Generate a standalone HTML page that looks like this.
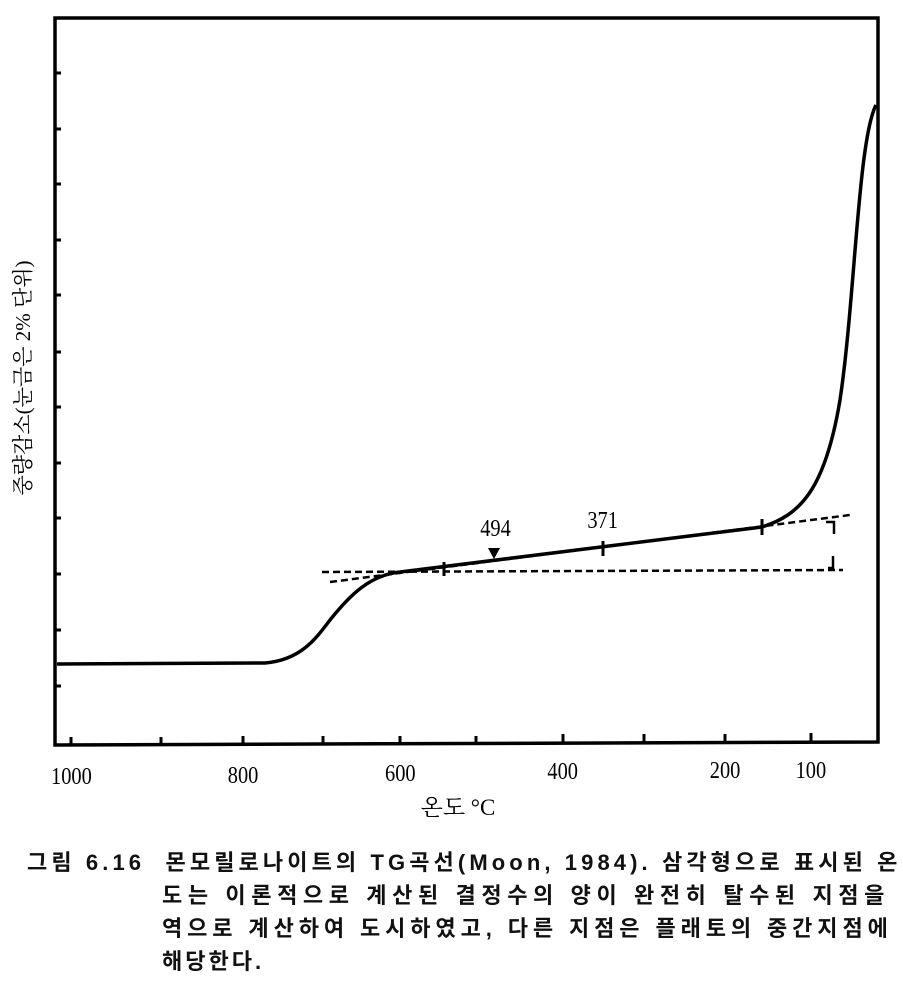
<!DOCTYPE html>
<html><head><meta charset="utf-8"><style>
body{margin:0;background:#fff;width:903px;height:995px;overflow:hidden;position:relative;font-family:"Liberation Serif","Noto Serif CJK SC",serif}
.l{position:absolute;font-size:22px;color:#111;font-weight:bold;font-family:"Liberation Sans","Noto Sans CJK KR",sans-serif;white-space:nowrap;height:30px;line-height:30px}
</style></head><body>
<svg width="903" height="840" style="position:absolute;left:0;top:0" font-family="Liberation Serif, Noto Serif CJK SC, serif">
<g stroke="#000" fill="none">
<path d="M55,18 L878,18 L878,742 L55,745 Z" stroke-width="3.5"/>
<g stroke-width="3">
<path d="M55,73h6M55,129h6M55,184h6M55,240h6M55,295h6M55,352h6M55,407h6M55,463h6M55,518h6M55,574h6M55,630h6M55,686h6"/>
<path d="M71,745v-8M161,745v-8M243,744v-8M323,744v-8M400,744v-8M476,744v-8M563,743v-9M644,743v-9M725,743v-9M811,742v-9"/>
</g>
<path d="M57,664 L265,663 C300,660 315,640 330,620 C350,595 370,575 400,572 L762,527 C800,515 825,490 840,400 C855,300 858,140 876,105" stroke-width="3.5"/>
<g stroke-width="2.5" stroke-dasharray="7,4">
<path d="M322,572 L843,570"/>
<path d="M330,582 L850,515"/>
</g>
<path d="M444,562v14M603,541v15M762,519v16" stroke-width="3"/>
<path d="M826,522h8v12M833,556v12h-5" stroke-width="2.5"/>
</g>
<path d="M488,548 L500,548 L494,559 Z" fill="#000"/>
<g font-size="24" fill="#000" text-anchor="middle">
<g transform="scale(0.85,1)">
<text x="583" y="536">494</text>
<text x="709" y="528">371</text>
<text x="84" y="784">1000</text>
<text x="286" y="783">800</text>
<text x="471" y="781">600</text>
<text x="662" y="779">400</text>
<text x="853" y="778">200</text>
<text x="954" y="778">100</text>
</g>
<text x="458" y="815" font-size="23">온도 °C</text>
</g>
<text transform="translate(30,378) rotate(-90)" font-size="21" text-anchor="middle" fill="#000">중량감소(눈금은 2% 단위)</text>
</svg>
<div class="l" style="left:27px;top:848px;letter-spacing:4.1px">그림 6.16&nbsp;&nbsp;몬모릴로나이트의 TG곡선(Moon, 1984). 삼각형으로 표시된 온</div>
<div class="l" style="left:162px;top:881px;letter-spacing:5.6px">도는 이론적으로 계산된 결정수의 양이 완전히 탈수된 지점을</div>
<div class="l" style="left:162px;top:914px;letter-spacing:4.9px">역으로 계산하여 도시하였고, 다른 지점은 플래토의 중간지점에</div>
<div class="l" style="left:162px;top:947px;letter-spacing:3px">해당한다.</div>
</body></html>
